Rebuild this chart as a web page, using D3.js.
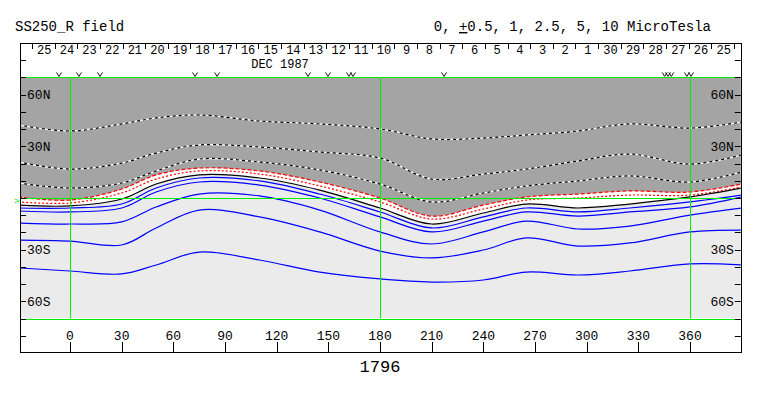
<!DOCTYPE html>
<html>
<head>
<meta charset="utf-8">
<script src="https://cdn.jsdelivr.net/npm/d3@7"></script>
<style>
body { margin: 0; background: #fff; }
text { font-family: "Liberation Mono", "DejaVu Sans Mono", monospace; fill: #000; }
</style>
</head>
<body>
<svg id="chart" width="763" height="396"></svg>
<script>
// Carrington map, rotation 1796 (DEC 1987), source surface field
var title = "SS250_R field";
var rotation = "1796";
var monthLabel = "DEC 1987";

// longitude grid of the contour readings
var lonGrid = [-30, 0, 30, 50, 75, 110, 145, 180, 210, 240, 265, 295, 325, 360, 390];

// latitude of each contour at lonGrid
var pos10  = [42.4, 38.9, 43.0, 46.5, 48.2, 44.7, 43.0, 40.1, 34.3, 34.8, 36.6, 38.9, 43.0, 40.6, 44.1];
var pos5   = [20.9, 16.8, 20.3, 26.1, 30.8, 29.6, 26.7, 23.2, 11.0, 13.9, 16.8, 21.5, 25.5, 19.7, 25.0];
var pos2_5 = [8.7, 5.8, 8.7, 15.7, 22.6, 20.9, 16.3, 8.1, -2.3, 2.9, 7.0, 9.9, 12.8, 9.3, 15.1];
var pos1   = [0.6, -1.2, 5.2, 13.4, 17.4, 15.7, 9.3, 0.0, -10.5, -4.1, 0.6, 2.3, 4.1, 3.5, 8.1];
var pos0_5 = [-2.3, -2.9, 2.9, 11.0, 15.7, 13.9, 7.0, -2.3, -12.2, -6.4, -1.2, 0.0, 1.7, 1.7, 6.4];
var zero   = [-4.1, -4.6, -0.6, 8.1, 13.4, 11.6, 4.6, -5.8, -15.1, -8.7, -3.5, -5.8, -3.5, 0.6, 5.8];
var neg0_5 = [-5.8, -5.8, -3.5, 5.8, 11.6, 9.9, 2.3, -8.1, -17.4, -11.0, -5.8, -8.1, -5.8, -2.3, 1.7];
var neg1   = [-7.5, -8.1, -5.8, 3.5, 9.3, 7.5, 0.0, -11.0, -19.7, -13.4, -8.1, -10.5, -8.1, -5.2, 0.6];
var neg2_5 = [-14.5, -15.1, -13.9, -5.2, 2.3, 1.2, -7.0, -19.7, -26.7, -19.7, -13.4, -18.0, -16.3, -9.9, -5.8];
var neg5   = [-24.4, -25.0, -27.3, -17.4, -7.0, -11.0, -19.7, -30.8, -34.8, -30.2, -23.2, -27.9, -26.1, -19.7, -18.6];
var neg10  = [-40.6, -42.4, -44.1, -38.9, -31.4, -36.0, -43.0, -47.0, -48.8, -47.6, -43.0, -44.7, -42.4, -38.3, -38.9];

// day strip: days run backwards in time from left to right
var dayLabels = ["25","24","23","22","21","20","19","18","17","16","15","14","13","12","11","10",
                 "9","8","7","6","5","4","3","2","1","30","29","28","27","26","25"];
var dayStartLon = -22.1;   // lon of first day boundary
var dayStepLon = 13.15;    // degrees per day

// small "v" data markers on top of the map
var markLons = [-6.4, 5.2, 17.4, 72.6, 85.4, 138.2, 149.8, 162, 164.3, 217.2, 345.3, 347.2, 349.1, 358.2, 360.6];

var lonTicks = d3.range(0, 361, 30);
var latLabels = [60, 30, -30, -60];
var latTicks = d3.range(80, -81, -10);

var svg = d3.select("#chart");
var x = d3.scaleLinear().domain([0, 360]).range([70, 690]);
var y = d3.scaleLinear().domain([90, -90]).range([43, 353]);
var lonMin = -29, lonMax = 389.5;
var L = x(lonMin), R = x(lonMax);
var yTop = y(90), yBot = y(-90) - 1;

svg.append("defs").append("clipPath").attr("id", "plotclip")
    .append("rect").attr("x", L).attr("y", y(70)).attr("width", R - L).attr("height", y(-70) - y(70));

var plot = svg.append("g").attr("clip-path", "url(#plotclip)");

function pts(arr) { return arr.map(function (v, i) { return [lonGrid[i], v]; }); }
var curve = d3.curveCatmullRom.alpha(0.5);
var line = d3.line().x(function (d) { return x(d[0]); }).y(function (d) { return y(d[1]); }).curve(curve);
var areaTop = d3.area().x(function (d) { return x(d[0]); }).y0(y(70)).y1(function (d) { return y(d[1]); }).curve(curve);

// background fills
plot.append("rect").attr("x", L).attr("y", y(70)).attr("width", R - L).attr("height", y(-70) - y(70))
    .attr("fill", "#ebebeb");
plot.append("path").attr("d", areaTop(pts(zero))).attr("fill", "#ffffff");
plot.append("path").attr("d", areaTop(pts(pos1))).attr("fill", "#a4a4a4");

// positive contours: black/white dashes
[pos10, pos5, pos2_5].forEach(function (c) {
    plot.append("path").attr("d", line(pts(c))).attr("fill", "none")
        .attr("stroke", "#fff").attr("stroke-width", 1.2);
    plot.append("path").attr("d", line(pts(c))).attr("fill", "none")
        .attr("stroke", "#000").attr("stroke-width", 1.2).attr("stroke-dasharray", "3,3");
});
plot.append("path").attr("d", line(pts(pos1))).attr("fill", "none")
    .attr("stroke", "#ff0000").attr("stroke-width", 1.2).attr("stroke-dasharray", "4,2");
plot.append("path").attr("d", line(pts(pos0_5))).attr("fill", "none")
    .attr("stroke", "#ff0000").attr("stroke-width", 1.2).attr("stroke-dasharray", "2,2");
plot.append("path").attr("d", line(pts(zero))).attr("fill", "none")
    .attr("stroke", "#000").attr("stroke-width", 1.2);
[neg0_5, neg1, neg2_5, neg5, neg10].forEach(function (c) {
    plot.append("path").attr("d", line(pts(c))).attr("fill", "none")
        .attr("stroke", "#0000ff").attr("stroke-width", 1.2);
});

// green reference lines
var green = "#00ee00";
[70, 0, -70].forEach(function (lat) {
    svg.append("line").attr("x1", L).attr("x2", R).attr("y1", Math.round(y(lat)) + 0.5).attr("y2", Math.round(y(lat)) + 0.5)
        .attr("stroke", green).attr("stroke-width", 1);
});
[0, 180, 360].forEach(function (lon) {
    svg.append("line").attr("x1", Math.round(x(lon)) + 0.5).attr("x2", Math.round(x(lon)) + 0.5)
        .attr("y1", y(70)).attr("y2", y(-70)).attr("stroke", green).attr("stroke-width", 1);
});
svg.append("text").attr("x", L - 6).attr("y", y(0) + 6).text(">")
    .style("fill", green).style("font-size", "9px");

// frame
svg.append("rect").attr("x", Math.round(L) + 0.5).attr("y", yTop + 0.5)
    .attr("width", Math.round(R - L)).attr("height", Math.round(yBot - yTop))
    .attr("fill", "none").attr("stroke", "#000").attr("stroke-width", 1);

// latitude ticks both sides
latTicks.forEach(function (lat) {
    var yy = Math.round(y(lat)) + 0.5;
    svg.append("line").attr("x1", L).attr("x2", L + 6).attr("y1", yy).attr("y2", yy).attr("stroke", "#000");
    svg.append("line").attr("x1", R - 6).attr("x2", R).attr("y1", yy).attr("y2", yy).attr("stroke", "#000");
});
latLabels.forEach(function (lat) {
    var s = Math.abs(lat) + (lat > 0 ? "N" : "S");
    svg.append("text").attr("x", L + 7).attr("y", y(lat) + 4.5).text(s).style("font-size", "13px");
    svg.append("text").attr("x", R - 7).attr("y", y(lat) + 4.5).attr("text-anchor", "end").text(s).style("font-size", "13px");
});

// longitude axis at bottom
lonTicks.forEach(function (lon) {
    var xx = Math.round(x(lon)) + 0.5;
    svg.append("line").attr("x1", xx).attr("x2", xx).attr("y1", yBot - 10).attr("y2", yBot).attr("stroke", "#000");
    svg.append("text").attr("x", x(lon)).attr("y", yBot - 12).attr("text-anchor", "middle")
        .text(lon).style("font-size", "13px");
});
svg.append("text").attr("x", x(180)).attr("y", 372).attr("text-anchor", "middle")
    .text(rotation).style("font-size", "17px");

// day strip
for (var k = 0; k <= dayLabels.length; k++) {
    var xs = Math.round(x(dayStartLon + k * dayStepLon)) + 0.5;
    svg.append("line").attr("x1", xs).attr("x2", xs).attr("y1", yTop).attr("y2", yTop + 6).attr("stroke", "#000");
}
dayLabels.forEach(function (d, k) {
    svg.append("text").attr("x", x(dayStartLon + (k + 0.5) * dayStepLon) + 1).attr("y", yTop + 10.5)
        .attr("text-anchor", "middle").text(d).style("font-size", "12px");
});
svg.append("text").attr("x", 280).attr("y", yTop + 24.5).attr("text-anchor", "middle")
    .text(monthLabel).style("font-size", "12px");

// v markers as small strokes just above the map
markLons.forEach(function (lon) {
    var xm = x(lon), yb = y(70) - 1;
    svg.append("path").attr("d", "M" + (xm - 2.5) + "," + (yb - 4) + "L" + xm + "," + yb + "L" + (xm + 2.5) + "," + (yb - 4))
        .attr("fill", "none").attr("stroke", "#000").attr("stroke-width", 0.9);
});

// header texts
svg.append("text").attr("x", 15).attr("y", 31).text(title).style("font-size", "14px");
var units = svg.append("text").attr("x", 711).attr("y", 31).attr("text-anchor", "end").style("font-size", "14px");
units.append("tspan").text("0, ");
units.append("tspan").style("text-decoration", "underline").text("+");
units.append("tspan").text("0.5, 1, 2.5, 5, 10 MicroTesla");
</script>
</body>
</html>
